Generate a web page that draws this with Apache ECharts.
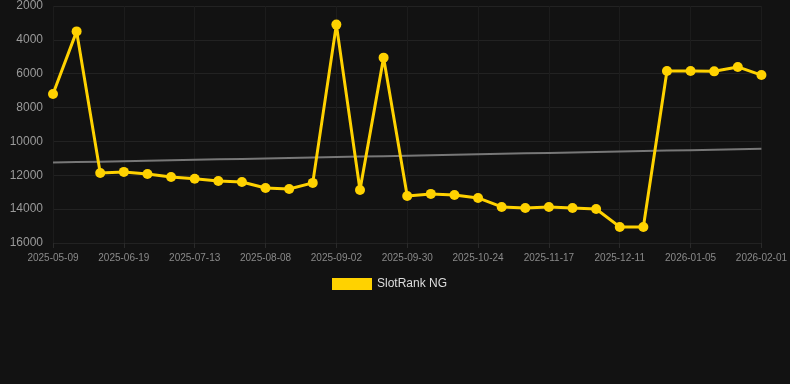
<!DOCTYPE html>
<html><head><meta charset="utf-8">
<script src="https://cdn.jsdelivr.net/npm/echarts@6/dist/echarts.min.js"></script>
<style>html,body{margin:0;padding:0;background:#121212;}#c{width:790px;height:384px;}</style>
</head><body><div id="c"></div>
<script>
const dates = ["2025-05-09","2025-05-23","2025-06-06","2025-06-19","2025-06-27","2025-07-05","2025-07-13","2025-07-22","2025-07-30","2025-08-08","2025-08-17","2025-08-25","2025-09-02","2025-09-11","2025-09-21","2025-09-30","2025-10-08","2025-10-16","2025-10-24","2025-11-01","2025-11-09","2025-11-17","2025-11-25","2025-12-03","2025-12-11","2025-12-19","2025-12-28","2026-01-05","2026-01-14","2026-01-23","2026-02-01"];
const rankValues = [7200,3500,11860,11800,11920,12100,12200,12340,12400,12750,12810,12450,3100,12870,5050,13220,13100,13160,13340,13870,13930,13870,13930,13990,15050,15050,5840,5840,5860,5600,6080];
const seriesName = "SlotRank NG";

// linear regression trend computed from the data
const n = rankValues.length;
let sx=0, sy=0, sxy=0, sxx=0;
rankValues.forEach((v,i)=>{sx+=i;sy+=v;sxy+=i*v;sxx+=i*i;});
const slope = (n*sxy - sx*sy)/(n*sxx - sx*sx);
const icpt = (sy - slope*sx)/n;
const trend = rankValues.map((v,i)=> +(icpt + slope*i).toFixed(1));

const chart = echarts.init(document.getElementById('c'));
chart.setOption({
  backgroundColor:'#121212',
  animation:false,
  grid:{left:53,right:28,top:6,bottom:141},
  legend:{
    data:[seriesName],
    top:273, left:327,
    itemWidth:40, itemHeight:12, icon:'rect',
    textStyle:{color:'#dddddd',fontSize:12}
  },
  xAxis:{
    type:'category', data:dates, boundaryGap:false,
    axisLine:{show:false},
    axisTick:{show:true,interval:2,length:5,lineStyle:{color:'#2a2a2a'}},
    axisLabel:{interval:2,color:'#8a8a8a',fontSize:10,margin:10},
    splitLine:{show:true,interval:2,lineStyle:{color:'#1c1c1c'}}
  },
  yAxis:{
    type:'value', inverse:true, min:2000, max:16000, interval:2000,
    axisLine:{show:false}, axisTick:{show:false},
    axisLabel:{color:'#9a9a9a',fontSize:12,margin:10,formatter:function(v){return String(v);}},
    splitLine:{lineStyle:{color:'#222222'}}
  },
  series:[
    {
      name:'trend', type:'line', data:trend, showSymbol:false, symbol:'none',
      lineStyle:{color:'#777777',width:2}, silent:true, z:1
    },
    {
      name:seriesName, type:'line', data:rankValues,
      symbol:'circle', symbolSize:10,
      lineStyle:{color:'#FFD200',width:3},
      itemStyle:{color:'#FFD200'}, z:3
    }
  ]
});
</script></body></html>
